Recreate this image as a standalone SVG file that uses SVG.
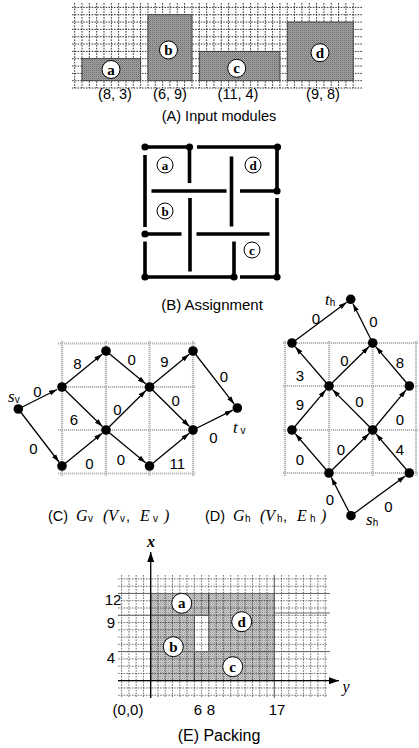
<svg xmlns="http://www.w3.org/2000/svg" width="419" height="748" viewBox="0 0 419 748">
<defs>
<pattern id="ht" width="2" height="2" patternUnits="userSpaceOnUse"><rect width="2" height="2" fill="#a2a2a2"/><rect width="1" height="1" fill="#6e6e6e"/><rect x="1" y="1" width="1" height="1" fill="#8a8a8a"/></pattern>
<pattern id="ht2" width="2" height="2" patternUnits="userSpaceOnUse"><rect width="2" height="2" fill="#cdcdcd"/><rect width="1" height="1" fill="#9a9a9a"/><rect x="1" y="1" width="1" height="1" fill="#b6b6b6"/></pattern>
<marker id="ar" viewBox="0 0 8 6" refX="8" refY="3" markerWidth="8" markerHeight="6" markerUnits="userSpaceOnUse" orient="auto"><path d="M0,0.5 L8,3 L0,5.5 z" fill="#000"/></marker>
<marker id="ax" viewBox="0 0 10 8" refX="10" refY="4" markerWidth="10" markerHeight="8" markerUnits="userSpaceOnUse" orient="auto"><path d="M0,0.5 L10,4 L0,7.5 z" fill="#000"/></marker>
</defs>
<style>
.grid{stroke:#000;stroke-width:0.8;stroke-dasharray:1.6 1.2;fill:none}
.gridE{stroke:#000;stroke-width:0.7;stroke-dasharray:1.6 1.2;fill:none;opacity:0.8}
.mod{fill:url(#ht);stroke:#333;stroke-width:0.8}
.modE{fill:url(#ht2);stroke:#444;stroke-width:0.8}
.cl circle{fill:#fff;stroke:#000;stroke-width:1}
.cl text{font-family:"Liberation Serif","Times New Roman",serif;font-weight:bold;text-anchor:middle}
.sans{font-family:"Liberation Sans",Arial,sans-serif}
.num{font-family:"Liberation Sans",Arial,sans-serif;font-size:15px;text-anchor:middle}
.edge{stroke:#000;stroke-width:1.3;fill:none;marker-end:url(#ar)}
.node{fill:#000}
.gg{stroke:#b5b5b5;stroke-width:2.2;stroke-dasharray:1.2 0.8;fill:none}
.wall{stroke:#000;stroke-width:3.6;fill:none}
.dot{fill:#000}
.ser{font-family:"Liberation Serif","Times New Roman",serif;font-style:italic}
.cap{font-family:"Liberation Sans",Arial,sans-serif;text-anchor:middle}
.sol{stroke:#666;stroke-width:1;fill:none}
.sub{font-family:"Liberation Sans",Arial,sans-serif;font-size:10px}
</style>

<!-- Panel A -->
<g id="panelA">
<path class="grid" d="M74.67,3v85m7.33,-85v85m7.33,-85v85m7.33,-85v85m7.33,-85v85m7.33,-85v85m7.33,-85v85m7.33,-85v85m7.33,-85v85m7.33,-85v85m7.33,-85v85m7.33,-85v85m7.33,-85v85m7.33,-85v85m7.33,-85v85m7.33,-85v85m7.33,-85v85m7.33,-85v85m7.33,-85v85m7.33,-85v85m7.33,-85v85m7.33,-85v85m7.33,-85v85m7.33,-85v85m7.33,-85v85m7.33,-85v85m7.33,-85v85m7.33,-85v85m7.33,-85v85m7.33,-85v85m7.33,-85v85m7.33,-85v85m7.33,-85v85m7.33,-85v85m7.33,-85v85m7.33,-85v85m7.33,-85v85m7.33,-85v85m7.33,-85v85"/>
<path class="grid" d="M72,7.4h291m-291,7.33h291m-291,7.33h291m-291,7.33h291m-291,7.33h291m-291,7.33h291m-291,7.33h291m-291,7.33h291m-291,7.33h291m-291,7.33h291m-291,7.33h291m-291,7.33h291"/>
<g id="modA-a"><rect class="mod" x="82" y="58.71" width="58.64" height="21.99"/><g class="cl"><circle cx="111" cy="69.5" r="9"/><text x="111" y="74.5" font-size="15">a</text></g></g>
<g id="modA-b"><rect class="mod" x="147.97" y="14.73" width="43.98" height="65.97"/><g class="cl"><circle cx="168.5" cy="50" r="9"/><text x="168.5" y="55" font-size="15">b</text></g></g>
<g id="modA-c"><rect class="mod" x="199.28" y="51.38" width="80.63" height="29.32"/><g class="cl"><circle cx="236.7" cy="68.3" r="9"/><text x="236.7" y="73.3" font-size="15">c</text></g></g>
<g id="modA-d"><rect class="mod" x="287.24" y="22.06" width="65.97" height="58.64"/><g class="cl"><circle cx="320" cy="52.7" r="9"/><text x="320" y="57.7" font-size="15">d</text></g></g>
<g class="cap" font-size="14.5">
<text x="115" y="99">(8, 3)</text>
<text x="170" y="99">(6, 9)</text>
<text x="238" y="99">(11, 4)</text>
<text x="323" y="99">(9, 8)</text>
<text x="219" y="121">(A) Input modules</text>
</g>
</g>

<!-- Panel B -->
<g id="panelB">
<path class="wall" d="M145,147H189.5M197,147H277M189.5,147V183M145,155V227M145,234H181.5M145,241.5V277M145,277H234M240,277H277M277,147V191M277,198V277M240,191H277M151.5,191H226.5M231.5,156.5V226.5M190,198V271.5M196.5,234H269.5M234,241.5V277"/>
<g class="dot">
<circle cx="145" cy="147" r="3.6"/><circle cx="189.5" cy="147" r="3.6"/><circle cx="277.5" cy="147" r="3.6"/>
<circle cx="277" cy="191" r="3.6"/><circle cx="277" cy="277" r="3.6"/><circle cx="234" cy="277" r="3.6"/>
<circle cx="145" cy="277" r="3.6"/><circle cx="145" cy="234" r="3.6"/>
</g>
<g id="roomB-a" class="cl"><circle cx="165" cy="165" r="8"/><text x="165" y="169.5" font-size="13">a</text></g>
<g id="roomB-d" class="cl"><circle cx="253" cy="165" r="8"/><text x="253" y="169.5" font-size="13">d</text></g>
<g id="roomB-b" class="cl"><circle cx="165" cy="211" r="8"/><text x="165" y="215.5" font-size="13">b</text></g>
<g id="roomB-c" class="cl"><circle cx="252" cy="250" r="8"/><text x="252" y="254.5" font-size="13">c</text></g>
<text class="cap" x="212" y="310" font-size="15">(B) Assignment</text>
</g>

<!-- Panel C -->
<g id="panelC-grid">
<path class="gg" d="M58,343.5H196M58,387H196M58,430H196M58,473.5H196M62,341V476M106,341V476M149.5,341V476M193,341V476"/>
</g>
<g id="panelC-edges">
<path class="edge" d="M18.3,409L57.1,389.5"/>
<path class="edge" d="M62,387L102.1,354.2"/>
<path class="edge" d="M106,351L145.6,383.8"/>
<path class="edge" d="M149.5,387L189.2,354.2"/>
<path class="edge" d="M193,351L234.2,404.1"/>
<path class="edge" d="M62,387L102.4,426.5"/>
<path class="edge" d="M106,430L145.9,390.5"/>
<path class="edge" d="M149.5,387L189.4,426.5"/>
<path class="edge" d="M193,430L232.8,410.2"/>
<path class="edge" d="M18.3,409L59,462"/>
<path class="edge" d="M62,466L102.1,433.2"/>
<path class="edge" d="M106,430L145.6,462.8"/>
<path class="edge" d="M149.5,466L189.2,433.2"/>
</g>
<g id="panelC-labels" class="num">
<text x="37.5" y="397">0</text><text x="77.3" y="368.5">8</text><text x="131.7" y="364.5">0</text>
<text x="164.3" y="367">9</text><text x="224" y="382">0</text><text x="74" y="425">6</text>
<text x="117.3" y="414.5">0</text><text x="175.7" y="406">0</text><text x="213.3" y="442.5">0</text>
<text x="33.3" y="453.5">0</text><text x="89.3" y="468.5">0</text><text x="121" y="464.5">0</text>
<text x="177.3" y="468.5">11</text>
</g>
<g id="C-sv"><circle class="node" cx="18.3" cy="409" r="4.8"/><text x="8" y="402" class="ser" font-size="17">s<tspan class="sub" font-style="normal" dy="1">v</tspan></text></g>
<g id="C-n1"><circle class="node" cx="62" cy="387" r="4.8"/></g>
<g id="C-n2"><circle class="node" cx="106" cy="351" r="4.8"/></g>
<g id="C-n3"><circle class="node" cx="193" cy="351" r="4.8"/></g>
<g id="C-n4"><circle class="node" cx="149.5" cy="387" r="4.8"/></g>
<g id="C-n5"><circle class="node" cx="106" cy="430" r="4.8"/></g>
<g id="C-n6"><circle class="node" cx="193" cy="430" r="4.8"/></g>
<g id="C-n7"><circle class="node" cx="62" cy="466" r="4.8"/></g>
<g id="C-n8"><circle class="node" cx="149.5" cy="466" r="4.8"/></g>
<g id="C-tv"><circle class="node" cx="237.3" cy="408" r="4.8"/><text x="233" y="433" class="ser" font-size="17">t<tspan class="sub" font-style="normal" dy="1"> v</tspan></text></g>

<!-- Panel D -->
<g id="panelD-grid">
<path class="gg" d="M283,343H418M283,386H418M283,430H418M283,473H418M285,341V476M329,341V476M372.7,341V476M416,341V476"/>
</g>
<g id="panelD-edges">
<path class="edge" d="M292,343L346.7,302.3"/>
<path class="edge" d="M372.7,343L353,303.8"/>
<path class="edge" d="M329,386L295.3,346.8"/>
<path class="edge" d="M329,386L369.1,346.5"/>
<path class="edge" d="M409.3,386L375.9,346.8"/>
<path class="edge" d="M292,430L325.8,389.8"/>
<path class="edge" d="M372.7,430L332.5,389.6"/>
<path class="edge" d="M372.7,430L406.1,389.9"/>
<path class="edge" d="M329,473L295.3,433.8"/>
<path class="edge" d="M329,473L369.1,433.5"/>
<path class="edge" d="M409.3,473L375.9,433.8"/>
<path class="edge" d="M351,515.7L331.3,477.5"/>
<path class="edge" d="M351,515.7L405.3,476"/>
</g>
<g id="panelD-labels" class="num">
<text x="316" y="323.5">0</text><text x="373.3" y="327">0</text><text x="300" y="381">3</text>
<text x="344.3" y="366">0</text><text x="400" y="368">8</text><text x="300" y="410">9</text>
<text x="359.3" y="407">0</text><text x="400" y="424.5">0</text><text x="300" y="465">0</text>
<text x="341" y="454.5">0</text><text x="400" y="454.5">4</text><text x="330" y="505">0</text>
<text x="388.3" y="512">0</text>
</g>
<g id="D-th"><circle class="node" cx="350.7" cy="299.3" r="4.8"/><text x="325" y="305" class="ser" font-size="17">t<tspan class="sub" font-style="normal" dy="1">h</tspan></text></g>
<g id="D-d1"><circle class="node" cx="292" cy="343" r="4.8"/></g>
<g id="D-d2"><circle class="node" cx="372.7" cy="343" r="4.8"/></g>
<g id="D-d3"><circle class="node" cx="329" cy="386" r="4.8"/></g>
<g id="D-d4"><circle class="node" cx="409.3" cy="386" r="4.8"/></g>
<g id="D-d5"><circle class="node" cx="292" cy="430" r="4.8"/></g>
<g id="D-d6"><circle class="node" cx="372.7" cy="430" r="4.8"/></g>
<g id="D-d7"><circle class="node" cx="329" cy="473" r="4.8"/></g>
<g id="D-d8"><circle class="node" cx="409.3" cy="473" r="4.8"/></g>
<g id="D-sh"><circle class="node" cx="351" cy="515.7" r="4.8"/><text x="366" y="525" class="ser" font-size="17">s<tspan class="sub" font-style="normal" dy="1">h</tspan></text></g>

<!-- Captions C, D -->
<g id="captionC">
<text y="521" class="sans" font-size="14.5"><tspan x="48">(C)</tspan><tspan x="76" class="ser" font-size="16">G</tspan><tspan x="88" class="sub" dy="1">v</tspan><tspan x="103" dy="-1" class="ser" font-size="16">(V</tspan><tspan x="120" class="sub" dy="1">v</tspan><tspan x="126" dy="-1">,</tspan><tspan x="140" class="ser" font-size="16">E</tspan><tspan x="153" class="sub" dy="1">v</tspan><tspan x="164" dy="-1" class="ser" font-size="16">)</tspan></text>
</g>
<g id="captionD">
<text y="521" class="sans" font-size="14.5"><tspan x="205">(D)</tspan><tspan x="233" class="ser" font-size="16">G</tspan><tspan x="245" class="sub" dy="1">h</tspan><tspan x="260" dy="-1" class="ser" font-size="16">(V</tspan><tspan x="277" class="sub" dy="1">h</tspan><tspan x="283" dy="-1">,</tspan><tspan x="297" class="ser" font-size="16">E</tspan><tspan x="310" class="sub" dy="1">h</tspan><tspan x="321" dy="-1" class="ser" font-size="16">)</tspan></text>
</g>

<!-- Panel E -->
<g id="panelE">
<g id="modE-a"><rect class="modE" x="150.7" y="593.46" width="58.16" height="22.19"/></g>
<g id="modE-b"><rect class="modE" x="150.7" y="615.27" width="43.62" height="65.43"/></g>
<g id="modE-d"><rect class="modE" x="208.86" y="593.46" width="65.43" height="58.16"/></g>
<g id="modE-c"><rect class="modE" x="194.32" y="651.62" width="79.97" height="29.08"/></g>
<path class="gridE" d="M121.62,575v123m7.27,-123v123m7.27,-123v123m7.27,-123v123m7.27,-123v123m7.27,-123v123m7.27,-123v123m7.27,-123v123m7.27,-123v123m7.27,-123v123m7.27,-123v123m7.27,-123v123m7.27,-123v123m7.27,-123v123m7.27,-123v123m7.27,-123v123m7.27,-123v123m7.27,-123v123m7.27,-123v123m7.27,-123v123m7.27,-123v123m7.27,-123v123m7.27,-123v123m7.27,-123v123m7.27,-123v123m7.27,-123v123m7.27,-123v123m7.27,-123v123m7.27,-123v123"/>
<path class="gridE" d="M118,578.92h210m-210,7.27h210m-210,7.27h210m-210,7.27h210m-210,7.27h210m-210,7.27h210m-210,7.27h210m-210,7.27h210m-210,7.27h210m-210,7.27h210m-210,7.27h210m-210,7.27h210m-210,7.27h210m-210,7.27h210m-210,7.27h210m-210,7.27h210m-210,7.27h210"/>
<path class="sol" d="M118,593.46H330M118,651.62H330M118,615.27H208.86M274.29,613H330M274.29,575V698"/>
<g class="cl">
<g id="lblE-a"><circle cx="181.7" cy="603.3" r="10"/><text x="181.7" y="608.3" font-size="15">a</text></g>
<g id="lblE-d"><circle cx="241.7" cy="621.7" r="10"/><text x="241.7" y="626.7" font-size="15">d</text></g>
<g id="lblE-b"><circle cx="173.3" cy="646.7" r="10"/><text x="173.3" y="651.7" font-size="15">b</text></g>
<g id="lblE-c"><circle cx="232.7" cy="666.7" r="10"/><text x="232.7" y="671.7" font-size="15">c</text></g>
</g>
<path d="M150.7,698V552" stroke="#000" stroke-width="1.3" fill="none" marker-end="url(#ax)"/>
<path d="M118,680.7H339" stroke="#000" stroke-width="1.3" fill="none" marker-end="url(#ax)"/>
<text x="151" y="547" class="ser" font-weight="bold" font-size="16" text-anchor="middle">x</text>
<text x="346" y="692" class="ser" font-size="16" text-anchor="middle">y</text>
<g class="cap" font-size="15">
<text x="113" y="605">12</text>
<text x="111" y="628">9</text>
<text x="111" y="663">4</text>
<text x="128" y="715">(0,0)</text>
<text x="198" y="715">6</text>
<text x="211" y="715">8</text>
<text x="277" y="715">17</text>
<text x="219" y="741" font-size="16">(E) Packing</text>
</g>
</g>
</svg>
